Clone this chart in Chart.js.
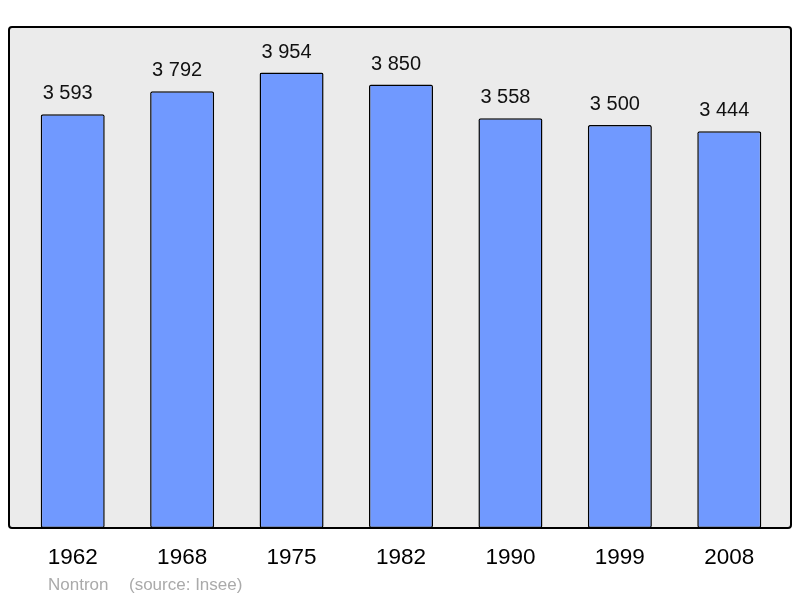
<!DOCTYPE html>
<html>
<head>
<meta charset="utf-8">
<script src="https://cdn.jsdelivr.net/npm/chart.js@4"></script>
<style>
  html, body { margin: 0; padding: 0; background: #fff; }
  #wrap { width: 800px; height: 598px; }
</style>
</head>
<body>
<div id="wrap"><canvas id="popChart" width="800" height="598"></canvas></div>
<script>
const years = ["1962", "1968", "1975", "1982", "1990", "1999", "2008"];
const population = [3593, 3792, 3954, 3850, 3558, 3500, 3444];
const townName = "Nontron";
const sourceText = "(source: Insee)";

const fmt = (v) => String(v).replace(/\B(?=(\d{3})+(?!\d))/g, " ");

// grey panel with black frame behind the bars
const panelPlugin = {
    id: "panel",
    beforeDraw(chart) {
        const ctx = chart.ctx;
        const a = chart.chartArea;
        const x = a.left - 9, y = a.top, w = (a.right + 7) - x, h = a.bottom - a.top;
        ctx.save();
        ctx.beginPath();
        ctx.roundRect(x, y, w, h, 3);
        ctx.fillStyle = "#ebebeb";
        ctx.fill();
        ctx.restore();
    },
    afterDatasetsDraw(chart) {
        const ctx = chart.ctx;
        const a = chart.chartArea;
        const x = a.left - 9, y = a.top, w = (a.right + 7) - x, h = a.bottom - a.top;
        ctx.save();
        ctx.beginPath();
        ctx.roundRect(x, y, w, h, 3);
        ctx.lineWidth = 2;
        ctx.strokeStyle = "#000";
        ctx.stroke();

        // value labels above each bar
        const meta = chart.getDatasetMeta(0);
        ctx.fillStyle = "#111";
        ctx.font = "20px 'Liberation Sans', Arial, sans-serif";
        ctx.textAlign = "center";
        ctx.textBaseline = "alphabetic";
        meta.data.forEach((bar, i) => {
            ctx.fillText(fmt(population[i]), bar.x - 5, bar.y - 15);
        });

        // footer
        ctx.fillStyle = "#aaaaaa";
        ctx.font = "17px 'Liberation Sans', Arial, sans-serif";
        ctx.textAlign = "left";
        ctx.textBaseline = "middle";
        ctx.fillText(townName, 48, 585);
        ctx.fillText(sourceText, 129, 585);
        ctx.restore();
    }
};

const data = {
    labels: years,
    datasets: [
        {
            data: population,
            backgroundColor: "#7099ff",
            borderColor: "#000",
            borderWidth: 1.5,
            borderRadius: 2,
            borderSkipped: false,
            barPercentage: 0.585,
            categoryPercentage: 1.0
        }
    ]
};

const config = {
    type: "bar",
    data,
    options: {
        responsive: false,
        animation: false,
        layout: { padding: { top: 27, left: 18, right: 16, bottom: 0 } },
        plugins: {
            legend: { display: false },
            tooltip: { enabled: false }
        },
        scales: {
            x: {
                grid: { display: false, drawTicks: false },
                border: { display: false },
                ticks: {
                    color: "#000",
                    padding: 16,
                    font: { family: "'Liberation Sans', Arial, sans-serif", size: 22.5 }
                },
                afterFit(scale) { scale.height = 70; }
            },
            y: {
                display: false,
                min: 0,
                max: 4350
            }
        }
    },
    plugins: [panelPlugin]
};

new Chart(document.getElementById("popChart"), config);
</script>
</body>
</html>
